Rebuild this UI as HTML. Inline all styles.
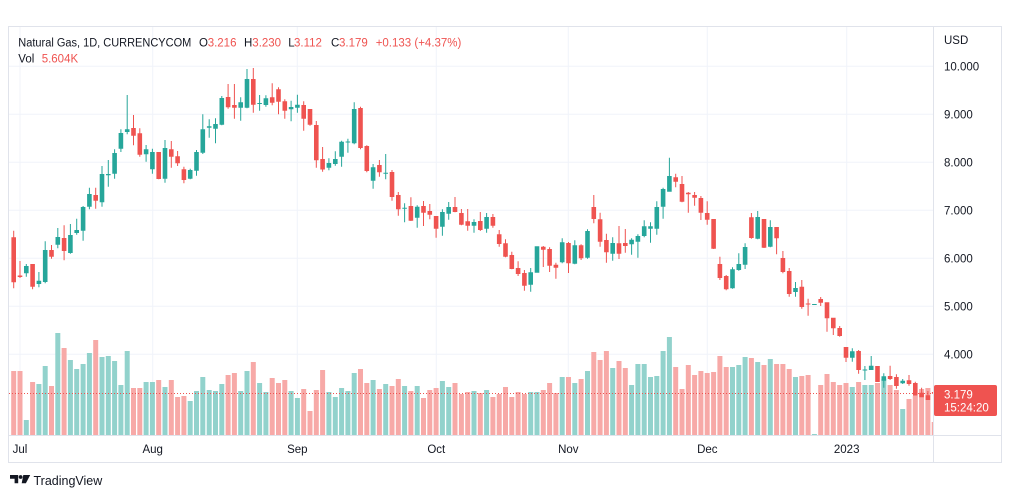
<!DOCTYPE html>
<html><head><meta charset="utf-8"><style>
html,body{margin:0;padding:0;background:#fff;width:1012px;height:498px;overflow:hidden}
svg{display:block}
text{font-family:"Liberation Sans",sans-serif}
.a{fill:#ef5350}.b{fill:#26a69a}.c{fill:#f7a9a7}.d{fill:#92d2cc}
</style></head><body>
<svg width="1012" height="498" viewBox="0 0 1012 498" xmlns="http://www.w3.org/2000/svg">
<defs><clipPath id="pc"><rect x="9" y="27" width="924.5" height="408"/></clipPath></defs>
<rect x="0" y="0" width="1012" height="498" fill="#fff"/>
<!-- grid -->
<g stroke="#f0f3fa" stroke-width="1">
<path d="M9 66.3H933M9 114.3H933M9 162.3H933M9 210.3H933M9 258.3H933M9 306.3H933M9 354.3H933"/>
<path d="M20 27V435M152.7 27V435M297.3 27V435M436.3 27V435M568.3 27V435M707.3 27V435M846.7 27V435"/>
</g>
<g clip-path="url(#pc)">
<g transform="translate(13.7)"><path class="c" d="M-2.5 371h5V435h-5z"/><path class="a" d="M-.5 230.7h1V288.3h-1zM-2.3 237.3h4.6V282.3h-4.6z"/></g>
<g transform="translate(20)"><path class="c" d="M-2.5 371h5V435h-5z"/><path class="a" d="M-.5 261h1V278h-1zM-2.3 275.5h4.6V277h-4.6z"/></g>
<g transform="translate(26.3)"><path class="d" d="M-2.5 420h5V435h-5z"/><path class="b" d="M-.5 264h1V276.7h-1zM-2.3 266h4.6V273.3h-4.6z"/></g>
<g transform="translate(32.6)"><path class="c" d="M-2.5 382h5V435h-5z"/><path class="a" d="M-.5 264h1V289.3h-1zM-2.3 264h4.6V286.7h-4.6z"/></g>
<g transform="translate(38.9)"><path class="d" d="M-2.5 384h5V435h-5z"/><path class="b" d="M-.5 272h1V287.3h-1zM-2.3 280.7h4.6V284h-4.6z"/></g>
<g transform="translate(45.2)"><path class="d" d="M-2.5 366h5V435h-5z"/><path class="b" d="M-.5 241.3h1V283.3h-1zM-2.3 250h4.6V282h-4.6z"/></g>
<g transform="translate(51.5)"><path class="c" d="M-2.5 386h5V435h-5z"/><path class="a" d="M-.5 245h1V258.7h-1zM-2.3 250h4.6V256.7h-4.6z"/></g>
<g transform="translate(57.8)"><path class="d" d="M-2.5 333h5V435h-5z"/><path class="b" d="M-.5 228h1V248.3h-1zM-2.3 237h4.6V244.7h-4.6z"/></g>
<g transform="translate(64.1)"><path class="c" d="M-2.5 348h5V435h-5z"/><path class="a" d="M-.5 225.3h1V260.3h-1zM-2.3 238h4.6V251h-4.6z"/></g>
<g transform="translate(70.4)"><path class="d" d="M-2.5 360h5V435h-5z"/><path class="b" d="M-.5 224h1V253.7h-1zM-2.3 235h4.6V253h-4.6z"/></g>
<g transform="translate(76.7)"><path class="d" d="M-2.5 369h5V435h-5z"/><path class="b" d="M-.5 218.7h1V234.7h-1zM-2.3 230h4.6V233h-4.6z"/></g>
<g transform="translate(83.1)"><path class="d" d="M-2.5 364h5V435h-5z"/><path class="b" d="M-.5 206h1V240.7h-1zM-2.3 207h4.6V230.7h-4.6z"/></g>
<g transform="translate(89.4)"><path class="d" d="M-2.5 353h5V435h-5z"/><path class="b" d="M-.5 187.7h1V209.3h-1zM-2.3 194h4.6V206.7h-4.6z"/></g>
<g transform="translate(95.7)"><path class="c" d="M-2.5 340h5V435h-5z"/><path class="a" d="M-.5 187.7h1V208.7h-1zM-2.3 195h4.6V200.7h-4.6z"/></g>
<g transform="translate(102)"><path class="d" d="M-2.5 357h5V435h-5z"/><path class="b" d="M-.5 166h1V206.7h-1zM-2.3 174h4.6V202.3h-4.6z"/></g>
<g transform="translate(108.3)"><path class="d" d="M-2.5 356h5V435h-5z"/><path class="b" d="M-.5 160h1V186.7h-1zM-2.3 174h4.6V175.3h-4.6z"/></g>
<g transform="translate(114.6)"><path class="d" d="M-2.5 361h5V435h-5z"/><path class="b" d="M-.5 149.3h1V178.7h-1zM-2.3 153h4.6V173.7h-4.6z"/></g>
<g transform="translate(120.9)"><path class="d" d="M-2.5 385h5V435h-5z"/><path class="b" d="M-.5 129.3h1V152h-1zM-2.3 133h4.6V148.7h-4.6z"/></g>
<g transform="translate(127.2)"><path class="d" d="M-2.5 351h5V435h-5z"/><path class="b" d="M-.5 95h1V134.3h-1zM-2.3 129.3h4.6V132h-4.6z"/></g>
<g transform="translate(133.5)"><path class="c" d="M-2.5 388h5V435h-5z"/><path class="a" d="M-.5 115h1V145.3h-1zM-2.3 128h4.6V135.7h-4.6z"/></g>
<g transform="translate(139.8)"><path class="c" d="M-2.5 388h5V435h-5z"/><path class="a" d="M-.5 128.3h1V156.7h-1zM-2.3 133.3h4.6V154.7h-4.6z"/></g>
<g transform="translate(146.1)"><path class="d" d="M-2.5 382h5V435h-5z"/><path class="b" d="M-.5 145h1V161.7h-1zM-2.3 149.3h4.6V154.3h-4.6z"/></g>
<g transform="translate(152.4)"><path class="d" d="M-2.5 382h5V435h-5z"/><path class="b" d="M-.5 148.7h1V173.7h-1zM-2.3 152h4.6V169.3h-4.6z"/></g>
<g transform="translate(158.7)"><path class="c" d="M-2.5 380h5V435h-5z"/><path class="a" d="M-.5 152h1V179.3h-1zM-2.3 152h4.6V179h-4.6z"/></g>
<g transform="translate(165)"><path class="d" d="M-2.5 387h5V435h-5z"/><path class="b" d="M-.5 140h1V182.7h-1zM-2.3 148h4.6V178.7h-4.6z"/></g>
<g transform="translate(171.3)"><path class="c" d="M-2.5 380h5V435h-5z"/><path class="a" d="M-.5 141h1V167.7h-1zM-2.3 149.3h4.6V156.7h-4.6z"/></g>
<g transform="translate(177.6)"><path class="c" d="M-2.5 397h5V435h-5z"/><path class="a" d="M-.5 151h1V166h-1zM-2.3 156.3h4.6V163.3h-4.6z"/></g>
<g transform="translate(183.9)"><path class="c" d="M-2.5 396h5V435h-5z"/><path class="a" d="M-.5 166.7h1V183.3h-1zM-2.3 169.3h4.6V180h-4.6z"/></g>
<g transform="translate(190.2)"><path class="d" d="M-2.5 401h5V435h-5z"/><path class="b" d="M-.5 168.7h1V179.3h-1zM-2.3 170h4.6V178.7h-4.6z"/></g>
<g transform="translate(196.5)"><path class="d" d="M-2.5 391h5V435h-5z"/><path class="b" d="M-.5 150h1V175.7h-1zM-2.3 152h4.6V170.7h-4.6z"/></g>
<g transform="translate(202.8)"><path class="d" d="M-2.5 377h5V435h-5z"/><path class="b" d="M-.5 114.3h1V154h-1zM-2.3 129.3h4.6V152.7h-4.6z"/></g>
<g transform="translate(209.2)"><path class="d" d="M-2.5 390h5V435h-5z"/><path class="b" d="M-.5 119.3h1V137.7h-1zM-2.3 126.3h4.6V127.7h-4.6z"/></g>
<g transform="translate(215.5)"><path class="d" d="M-2.5 391h5V435h-5z"/><path class="b" d="M-.5 118.3h1V143.3h-1zM-2.3 124h4.6V128.7h-4.6z"/></g>
<g transform="translate(221.8)"><path class="d" d="M-2.5 384h5V435h-5z"/><path class="b" d="M-.5 96h1V125.3h-1zM-2.3 98h4.6V124.7h-4.6z"/></g>
<g transform="translate(228.1)"><path class="c" d="M-2.5 375h5V435h-5z"/><path class="a" d="M-.5 84h1V108.7h-1zM-2.3 97h4.6V107.3h-4.6z"/></g>
<g transform="translate(234.4)"><path class="c" d="M-2.5 373h5V435h-5z"/><path class="a" d="M-.5 84h1V118.7h-1zM-2.3 105h4.6V107.7h-4.6z"/></g>
<g transform="translate(240.7)"><path class="d" d="M-2.5 391h5V435h-5z"/><path class="b" d="M-.5 97.3h1V120.7h-1zM-2.3 102.3h4.6V107.7h-4.6z"/></g>
<g transform="translate(247)"><path class="d" d="M-2.5 371h5V435h-5z"/><path class="b" d="M-.5 69h1V108.3h-1zM-2.3 79h4.6V107.7h-4.6z"/></g>
<g transform="translate(253.3)"><path class="c" d="M-2.5 362h5V435h-5z"/><path class="a" d="M-.5 68h1V112.7h-1zM-2.3 79h4.6V104.7h-4.6z"/></g>
<g transform="translate(259.6)"><path class="d" d="M-2.5 383h5V435h-5z"/><path class="b" d="M-.5 95h1V110.7h-1zM-2.3 103h4.6V104h-4.6z"/></g>
<g transform="translate(265.9)"><path class="d" d="M-2.5 392h5V435h-5z"/><path class="b" d="M-.5 95.3h1V106.7h-1zM-2.3 98.3h4.6V105h-4.6z"/></g>
<g transform="translate(272.2)"><path class="c" d="M-2.5 378h5V435h-5z"/><path class="a" d="M-.5 83.3h1V105.3h-1zM-2.3 97.3h4.6V102.7h-4.6z"/></g>
<g transform="translate(278.5)"><path class="c" d="M-2.5 383h5V435h-5z"/><path class="a" d="M-.5 87.3h1V114.3h-1zM-2.3 89.3h4.6V101.7h-4.6z"/></g>
<g transform="translate(284.8)"><path class="c" d="M-2.5 380h5V435h-5z"/><path class="a" d="M-.5 99.3h1V118.7h-1zM-2.3 101.3h4.6V110.7h-4.6z"/></g>
<g transform="translate(291.1)"><path class="d" d="M-2.5 391h5V435h-5z"/><path class="b" d="M-.5 100.7h1V121.3h-1zM-2.3 107h4.6V109.3h-4.6z"/></g>
<g transform="translate(297.4)"><path class="d" d="M-2.5 398h5V435h-5z"/><path class="b" d="M-.5 94.7h1V112.7h-1zM-2.3 104.7h4.6V107.7h-4.6z"/></g>
<g transform="translate(303.7)"><path class="c" d="M-2.5 389h5V435h-5z"/><path class="a" d="M-.5 101.3h1V130.7h-1zM-2.3 105h4.6V118.7h-4.6z"/></g>
<g transform="translate(310)"><path class="c" d="M-2.5 411h5V435h-5z"/><path class="a" d="M-.5 109h1V125.7h-1zM-2.3 109h4.6V124.7h-4.6z"/></g>
<g transform="translate(316.3)"><path class="c" d="M-2.5 390h5V435h-5z"/><path class="a" d="M-.5 121h1V167.7h-1zM-2.3 125h4.6V160.3h-4.6z"/></g>
<g transform="translate(322.6)"><path class="c" d="M-2.5 370h5V435h-5z"/><path class="a" d="M-.5 147h1V171.7h-1zM-2.3 159h4.6V169.5h-4.6z"/></g>
<g transform="translate(328.9)"><path class="d" d="M-2.5 392h5V435h-5z"/><path class="b" d="M-.5 158.3h1V170.3h-1zM-2.3 163h4.6V167.7h-4.6z"/></g>
<g transform="translate(335.3)"><path class="d" d="M-2.5 397h5V435h-5z"/><path class="b" d="M-.5 151.3h1V165.7h-1zM-2.3 159h4.6V164h-4.6z"/></g>
<g transform="translate(341.6)"><path class="d" d="M-2.5 388h5V435h-5z"/><path class="b" d="M-.5 140.7h1V166.7h-1zM-2.3 141.7h4.6V156.7h-4.6z"/></g>
<g transform="translate(347.9)"><path class="d" d="M-2.5 391h5V435h-5z"/><path class="b" d="M-.5 138.7h1V152.7h-1zM-2.3 141.5h4.6V142.5h-4.6z"/></g>
<g transform="translate(354.2)"><path class="d" d="M-2.5 373h5V435h-5z"/><path class="b" d="M-.5 102.3h1V144.3h-1zM-2.3 109h4.6V143.3h-4.6z"/></g>
<g transform="translate(360.5)"><path class="c" d="M-2.5 369h5V435h-5z"/><path class="a" d="M-.5 106.7h1V149.3h-1zM-2.3 108h4.6V148h-4.6z"/></g>
<g transform="translate(366.8)"><path class="c" d="M-2.5 383h5V435h-5z"/><path class="a" d="M-.5 145.3h1V172.3h-1zM-2.3 146h4.6V171h-4.6z"/></g>
<g transform="translate(373.1)"><path class="d" d="M-2.5 380h5V435h-5z"/><path class="b" d="M-.5 164h1V188.7h-1zM-2.3 167.3h4.6V180.7h-4.6z"/></g>
<g transform="translate(379.4)"><path class="c" d="M-2.5 389h5V435h-5z"/><path class="a" d="M-.5 160h1V176.7h-1zM-2.3 165h4.6V172.3h-4.6z"/></g>
<g transform="translate(385.7)"><path class="d" d="M-2.5 384h5V435h-5z"/><path class="b" d="M-.5 154h1V179.3h-1zM-2.3 172.7h4.6V173.7h-4.6z"/></g>
<g transform="translate(392)"><path class="c" d="M-2.5 386h5V435h-5z"/><path class="a" d="M-.5 170h1V200.7h-1zM-2.3 172h4.6V197h-4.6z"/></g>
<g transform="translate(398.3)"><path class="c" d="M-2.5 379h5V435h-5z"/><path class="a" d="M-.5 192h1V215.7h-1zM-2.3 195h4.6V209.3h-4.6z"/></g>
<g transform="translate(404.6)"><path class="d" d="M-2.5 386h5V435h-5z"/><path class="b" d="M-.5 203.3h1V222.3h-1zM-2.3 207.7h4.6V208.7h-4.6z"/></g>
<g transform="translate(410.9)"><path class="c" d="M-2.5 391h5V435h-5z"/><path class="a" d="M-.5 197.3h1V221h-1zM-2.3 206h4.6V220.7h-4.6z"/></g>
<g transform="translate(417.2)"><path class="d" d="M-2.5 386h5V435h-5z"/><path class="b" d="M-.5 205.3h1V227.7h-1zM-2.3 206.7h4.6V217.7h-4.6z"/></g>
<g transform="translate(423.5)"><path class="c" d="M-2.5 398h5V435h-5z"/><path class="a" d="M-.5 201h1V226h-1zM-2.3 206h4.6V212.7h-4.6z"/></g>
<g transform="translate(429.8)"><path class="c" d="M-2.5 390h5V435h-5z"/><path class="a" d="M-.5 204h1V219.3h-1zM-2.3 211h4.6V214.7h-4.6z"/></g>
<g transform="translate(436.1)"><path class="c" d="M-2.5 388h5V435h-5z"/><path class="a" d="M-.5 216h1V237.7h-1zM-2.3 216h4.6V228.7h-4.6z"/></g>
<g transform="translate(442.4)"><path class="d" d="M-2.5 381h5V435h-5z"/><path class="b" d="M-.5 209.3h1V235.7h-1zM-2.3 212h4.6V226.7h-4.6z"/></g>
<g transform="translate(448.7)"><path class="d" d="M-2.5 387h5V435h-5z"/><path class="b" d="M-.5 202h1V219.7h-1zM-2.3 207h4.6V213.7h-4.6z"/></g>
<g transform="translate(455)"><path class="c" d="M-2.5 383h5V435h-5z"/><path class="a" d="M-.5 197h1V212.3h-1zM-2.3 207h4.6V212h-4.6z"/></g>
<g transform="translate(461.4)"><path class="c" d="M-2.5 394h5V435h-5z"/><path class="a" d="M-.5 209h1V225.3h-1zM-2.3 213h4.6V224.7h-4.6z"/></g>
<g transform="translate(467.7)"><path class="c" d="M-2.5 392h5V435h-5z"/><path class="a" d="M-.5 209h1V230.7h-1zM-2.3 221.3h4.6V225.7h-4.6z"/></g>
<g transform="translate(474)"><path class="d" d="M-2.5 391h5V435h-5z"/><path class="b" d="M-.5 219.3h1V232.7h-1zM-2.3 222h4.6V225.7h-4.6z"/></g>
<g transform="translate(480.3)"><path class="c" d="M-2.5 393h5V435h-5z"/><path class="a" d="M-.5 212h1V231h-1zM-2.3 221h4.6V230h-4.6z"/></g>
<g transform="translate(486.6)"><path class="d" d="M-2.5 390h5V435h-5z"/><path class="b" d="M-.5 213h1V232.7h-1zM-2.3 217h4.6V228.7h-4.6z"/></g>
<g transform="translate(492.9)"><path class="c" d="M-2.5 397h5V435h-5z"/><path class="a" d="M-.5 214h1V227.7h-1zM-2.3 217h4.6V225.7h-4.6z"/></g>
<g transform="translate(499.2)"><path class="c" d="M-2.5 394h5V435h-5z"/><path class="a" d="M-.5 230h1V246.7h-1zM-2.3 234.3h4.6V244h-4.6z"/></g>
<g transform="translate(505.5)"><path class="c" d="M-2.5 387h5V435h-5z"/><path class="a" d="M-.5 239.3h1V257.3h-1zM-2.3 243.3h4.6V256.7h-4.6z"/></g>
<g transform="translate(511.8)"><path class="c" d="M-2.5 397h5V435h-5z"/><path class="a" d="M-.5 251.7h1V269.3h-1zM-2.3 255h4.6V269h-4.6z"/></g>
<g transform="translate(518.1)"><path class="c" d="M-2.5 392h5V435h-5z"/><path class="a" d="M-.5 261.3h1V276h-1zM-2.3 268h4.6V274h-4.6z"/></g>
<g transform="translate(524.4)"><path class="c" d="M-2.5 394h5V435h-5z"/><path class="a" d="M-.5 270h1V290.7h-1zM-2.3 273h4.6V285.7h-4.6z"/></g>
<g transform="translate(530.7)"><path class="d" d="M-2.5 392h5V435h-5z"/><path class="b" d="M-.5 268h1V291.7h-1zM-2.3 272.3h4.6V284.7h-4.6z"/></g>
<g transform="translate(537)"><path class="d" d="M-2.5 392h5V435h-5z"/><path class="b" d="M-.5 246.3h1V272.7h-1zM-2.3 246.3h4.6V272.7h-4.6z"/></g>
<g transform="translate(543.3)"><path class="c" d="M-2.5 390h5V435h-5z"/><path class="a" d="M-.5 246h1V267h-1zM-2.3 246.7h4.6V249.7h-4.6z"/></g>
<g transform="translate(549.6)"><path class="c" d="M-2.5 383h5V435h-5z"/><path class="a" d="M-.5 247.3h1V272h-1zM-2.3 249h4.6V265.7h-4.6z"/></g>
<g transform="translate(555.9)"><path class="c" d="M-2.5 393h5V435h-5z"/><path class="a" d="M-.5 262.7h1V278.7h-1zM-2.3 264.7h4.6V267.7h-4.6z"/></g>
<g transform="translate(562.2)"><path class="d" d="M-2.5 377h5V435h-5z"/><path class="b" d="M-.5 238.3h1V263.3h-1zM-2.3 242.3h4.6V262.3h-4.6z"/></g>
<g transform="translate(568.5)"><path class="c" d="M-2.5 377h5V435h-5z"/><path class="a" d="M-.5 242h1V273h-1zM-2.3 243h4.6V263.3h-4.6z"/></g>
<g transform="translate(574.8)"><path class="d" d="M-2.5 383h5V435h-5z"/><path class="b" d="M-.5 240.3h1V264.3h-1zM-2.3 245.3h4.6V263.7h-4.6z"/></g>
<g transform="translate(581.1)"><path class="c" d="M-2.5 379h5V435h-5z"/><path class="a" d="M-.5 244.3h1V260h-1zM-2.3 245.3h4.6V258.3h-4.6z"/></g>
<g transform="translate(587.5)"><path class="d" d="M-2.5 371h5V435h-5z"/><path class="b" d="M-.5 229.3h1V258.7h-1zM-2.3 231h4.6V257.7h-4.6z"/></g>
<g transform="translate(593.8)"><path class="c" d="M-2.5 352h5V435h-5z"/><path class="a" d="M-.5 195h1V223.3h-1zM-2.3 207h4.6V219h-4.6z"/></g>
<g transform="translate(600.1)"><path class="c" d="M-2.5 360h5V435h-5z"/><path class="a" d="M-.5 212.7h1V246.7h-1zM-2.3 219.3h4.6V241.7h-4.6z"/></g>
<g transform="translate(606.4)"><path class="c" d="M-2.5 351h5V435h-5z"/><path class="a" d="M-.5 233.7h1V262.7h-1zM-2.3 240h4.6V252.3h-4.6z"/></g>
<g transform="translate(612.7)"><path class="d" d="M-2.5 368h5V435h-5z"/><path class="b" d="M-.5 237.3h1V260.7h-1zM-2.3 243h4.6V253.7h-4.6z"/></g>
<g transform="translate(619)"><path class="c" d="M-2.5 361h5V435h-5z"/><path class="a" d="M-.5 226h1V259h-1zM-2.3 243.3h4.6V253.7h-4.6z"/></g>
<g transform="translate(625.3)"><path class="c" d="M-2.5 368h5V435h-5z"/><path class="a" d="M-.5 229h1V252.7h-1zM-2.3 243h4.6V246h-4.6z"/></g>
<g transform="translate(631.6)"><path class="d" d="M-2.5 385h5V435h-5z"/><path class="b" d="M-.5 238.3h1V254.7h-1zM-2.3 239.7h4.6V244.3h-4.6z"/></g>
<g transform="translate(637.9)"><path class="d" d="M-2.5 364h5V435h-5z"/><path class="b" d="M-.5 234.3h1V257.7h-1zM-2.3 236h4.6V241.7h-4.6z"/></g>
<g transform="translate(644.2)"><path class="d" d="M-2.5 364h5V435h-5z"/><path class="b" d="M-.5 220.3h1V237.3h-1zM-2.3 226.3h4.6V236h-4.6z"/></g>
<g transform="translate(650.5)"><path class="d" d="M-2.5 377h5V435h-5z"/><path class="b" d="M-.5 222.3h1V242.7h-1zM-2.3 226.3h4.6V228.7h-4.6z"/></g>
<g transform="translate(656.8)"><path class="d" d="M-2.5 376h5V435h-5z"/><path class="b" d="M-.5 201.3h1V234.7h-1zM-2.3 207h4.6V228.7h-4.6z"/></g>
<g transform="translate(663.1)"><path class="d" d="M-2.5 351h5V435h-5z"/><path class="b" d="M-.5 187.7h1V218.7h-1zM-2.3 189h4.6V206.7h-4.6z"/></g>
<g transform="translate(669.4)"><path class="d" d="M-2.5 337h5V435h-5z"/><path class="b" d="M-.5 157.7h1V191.7h-1zM-2.3 176h4.6V191.7h-4.6z"/></g>
<g transform="translate(675.7)"><path class="c" d="M-2.5 367h5V435h-5z"/><path class="a" d="M-.5 173.7h1V187.3h-1zM-2.3 177.3h4.6V181.7h-4.6z"/></g>
<g transform="translate(682)"><path class="c" d="M-2.5 389h5V435h-5z"/><path class="a" d="M-.5 176h1V202.3h-1zM-2.3 184h4.6V201.7h-4.6z"/></g>
<g transform="translate(688.3)"><path class="c" d="M-2.5 365h5V435h-5z"/><path class="a" d="M-.5 192h1V212.7h-1zM-2.3 192.7h4.6V194.3h-4.6z"/></g>
<g transform="translate(694.6)"><path class="c" d="M-2.5 375h5V435h-5z"/><path class="a" d="M-.5 192h1V205.7h-1zM-2.3 195h4.6V197.7h-4.6z"/></g>
<g transform="translate(700.9)"><path class="c" d="M-2.5 371h5V435h-5z"/><path class="a" d="M-.5 196h1V220h-1zM-2.3 198h4.6V212.7h-4.6z"/></g>
<g transform="translate(707.2)"><path class="c" d="M-2.5 373h5V435h-5z"/><path class="a" d="M-.5 201.3h1V224.7h-1zM-2.3 213h4.6V219.7h-4.6z"/></g>
<g transform="translate(713.6)"><path class="c" d="M-2.5 372h5V435h-5z"/><path class="a" d="M-.5 219h1V249h-1zM-2.3 219h4.6V248.7h-4.6z"/></g>
<g transform="translate(719.9)"><path class="c" d="M-2.5 356h5V435h-5z"/><path class="a" d="M-.5 256.7h1V280h-1zM-2.3 264h4.6V278h-4.6z"/></g>
<g transform="translate(726.2)"><path class="c" d="M-2.5 367h5V435h-5z"/><path class="a" d="M-.5 275h1V290.3h-1zM-2.3 276h4.6V289.3h-4.6z"/></g>
<g transform="translate(732.5)"><path class="d" d="M-2.5 367h5V435h-5z"/><path class="b" d="M-.5 267.3h1V288.7h-1zM-2.3 269.3h4.6V288.3h-4.6z"/></g>
<g transform="translate(738.8)"><path class="d" d="M-2.5 365h5V435h-5z"/><path class="b" d="M-.5 253.3h1V270.7h-1zM-2.3 264h4.6V270h-4.6z"/></g>
<g transform="translate(745.1)"><path class="d" d="M-2.5 357h5V435h-5z"/><path class="b" d="M-.5 243.3h1V269h-1zM-2.3 247h4.6V264.7h-4.6z"/></g>
<g transform="translate(751.4)"><path class="c" d="M-2.5 358h5V435h-5z"/><path class="a" d="M-.5 213h1V238.7h-1zM-2.3 217.3h4.6V238h-4.6z"/></g>
<g transform="translate(757.7)"><path class="d" d="M-2.5 362h5V435h-5z"/><path class="b" d="M-.5 211h1V239.3h-1zM-2.3 217h4.6V238.7h-4.6z"/></g>
<g transform="translate(764)"><path class="c" d="M-2.5 365h5V435h-5z"/><path class="a" d="M-.5 219h1V248h-1zM-2.3 219h4.6V247.7h-4.6z"/></g>
<g transform="translate(770.3)"><path class="d" d="M-2.5 359h5V435h-5z"/><path class="b" d="M-.5 220.3h1V247.3h-1zM-2.3 227h4.6V246.7h-4.6z"/></g>
<g transform="translate(776.6)"><path class="c" d="M-2.5 364h5V435h-5z"/><path class="a" d="M-.5 227h1V254.3h-1zM-2.3 227h4.6V238.3h-4.6z"/></g>
<g transform="translate(782.9)"><path class="c" d="M-2.5 364h5V435h-5z"/><path class="a" d="M-.5 251h1V273.3h-1zM-2.3 258h4.6V272h-4.6z"/></g>
<g transform="translate(789.2)"><path class="c" d="M-2.5 369h5V435h-5z"/><path class="a" d="M-.5 268h1V296.7h-1zM-2.3 271h4.6V294h-4.6z"/></g>
<g transform="translate(795.5)"><path class="d" d="M-2.5 377h5V435h-5z"/><path class="b" d="M-.5 282h1V296.7h-1zM-2.3 288h4.6V292h-4.6z"/></g>
<g transform="translate(801.8)"><path class="c" d="M-2.5 376h5V435h-5z"/><path class="a" d="M-.5 280h1V308.7h-1zM-2.3 286.7h4.6V307h-4.6z"/></g>
<g transform="translate(808.1)"><path class="c" d="M-2.5 375h5V435h-5z"/><path class="a" d="M-.5 298.7h1V315.7h-1zM-2.3 303.5h4.6V304.5h-4.6z"/></g>
<g transform="translate(814.4)"><path class="d" d="M-2.5 434h5V435h-5z"/><path class="b" d="M-2.3 304h4.6V305h-4.6z"/></g>
<g transform="translate(820.7)"><path class="c" d="M-2.5 385h5V435h-5z"/><path class="a" d="M-.5 297h1V306h-1zM-2.3 299h4.6V302.7h-4.6z"/></g>
<g transform="translate(827)"><path class="c" d="M-2.5 374h5V435h-5z"/><path class="a" d="M-.5 302.3h1V331.7h-1zM-2.3 302.3h4.6V318.3h-4.6z"/></g>
<g transform="translate(833.3)"><path class="c" d="M-2.5 382h5V435h-5z"/><path class="a" d="M-.5 317.7h1V335h-1zM-2.3 317.7h4.6V328.3h-4.6z"/></g>
<g transform="translate(839.7)"><path class="c" d="M-2.5 385h5V435h-5z"/><path class="a" d="M-.5 326h1V336.7h-1zM-2.3 328h4.6V336h-4.6z"/></g>
<g transform="translate(846)"><path class="c" d="M-2.5 383h5V435h-5z"/><path class="a" d="M-.5 347h1V362h-1zM-2.3 347h4.6V357.7h-4.6z"/></g>
<g transform="translate(852.3)"><path class="d" d="M-2.5 387h5V435h-5z"/><path class="b" d="M-.5 348.3h1V361.7h-1zM-2.3 351.3h4.6V357.7h-4.6z"/></g>
<g transform="translate(858.6)"><path class="c" d="M-2.5 382h5V435h-5z"/><path class="a" d="M-.5 350h1V373.7h-1zM-2.3 351h4.6V370h-4.6z"/></g>
<g transform="translate(864.9)"><path class="d" d="M-2.5 385h5V435h-5z"/><path class="b" d="M-.5 366h1V380h-1zM-2.3 369.5h4.6V370.5h-4.6z"/></g>
<g transform="translate(871.2)"><path class="d" d="M-2.5 385h5V435h-5z"/><path class="b" d="M-.5 356h1V370h-1zM-2.3 365.7h4.6V370h-4.6z"/></g>
<g transform="translate(877.5)"><path class="c" d="M-2.5 383h5V435h-5z"/><path class="a" d="M-.5 366h1V382h-1zM-2.3 366h4.6V382h-4.6z"/></g>
<g transform="translate(883.8)"><path class="d" d="M-2.5 379h5V435h-5z"/><path class="b" d="M-.5 373.3h1V387.7h-1zM-2.3 376.3h4.6V380.7h-4.6z"/></g>
<g transform="translate(890.1)"><path class="c" d="M-2.5 385h5V435h-5z"/><path class="a" d="M-.5 365.7h1V380h-1zM-2.3 376h4.6V379h-4.6z"/></g>
<g transform="translate(896.4)"><path class="c" d="M-2.5 390h5V435h-5z"/><path class="a" d="M-.5 374.3h1V388.7h-1zM-2.3 377h4.6V386h-4.6z"/></g>
<g transform="translate(902.7)"><path class="d" d="M-2.5 409h5V435h-5z"/><path class="b" d="M-.5 379h1V384h-1zM-2.3 380.7h4.6V383.3h-4.6z"/></g>
<g transform="translate(909)"><path class="c" d="M-2.5 399h5V435h-5z"/><path class="a" d="M-.5 375h1V385.7h-1zM-2.3 380.3h4.6V384h-4.6z"/></g>
<g transform="translate(915.3)"><path class="c" d="M-2.5 396h5V435h-5z"/><path class="a" d="M-.5 381.7h1V395.7h-1zM-2.3 383h4.6V395.7h-4.6z"/></g>
<g transform="translate(921.6)"><path class="c" d="M-2.5 389h5V435h-5z"/><path class="a" d="M-.5 387.7h1V397.3h-1zM-2.3 392.7h4.6V397.3h-4.6z"/></g>
<g transform="translate(927.9)"><path class="c" d="M-2.5 388h5V435h-5z"/><path class="a" d="M-.5 391h1V400h-1zM-2.3 395.3h4.6V400h-4.6z"/></g>
<g transform="translate(934.2)"><path class="c" d="M-2.5 422h5V435h-5z"/><path class="a" d="M-.5 391.4h1V397h-1zM-2.3 392h4.6V393.7h-4.6z"/></g>
<path d="M9 393.5H933" stroke="#ef5350" stroke-width="1" stroke-dasharray="1 2"/>
</g>
<!-- frame and axes -->
<g fill="none" stroke="#e0e3eb" stroke-width="1">
<rect x="8.5" y="26.5" width="993" height="436"/>
<path d="M933.5 26.5V462.5M8.5 435.5H1001.5"/>
</g>
<!-- header -->
<g font-size="11.5" fill="#131722">
<text x="18.3" y="46.6" textLength="173" lengthAdjust="spacingAndGlyphs">Natural Gas, 1D, CURRENCYCOM</text>
<text x="199" y="46.6">O</text><text x="207.7" y="46.6" fill="#ef5350">3.216</text>
<text x="244" y="46.6">H</text><text x="252.3" y="46.6" fill="#ef5350">3.230</text>
<text x="288.3" y="46.6">L</text><text x="294" y="46.6" fill="#ef5350">3.112</text>
<text x="331" y="46.6">C</text><text x="339" y="46.6" fill="#ef5350">3.179</text>
<text x="375.7" y="46.6" fill="#ef5350">+0.133 (+4.37%)</text>
<text x="18.3" y="62.6">Vol</text><text x="41.7" y="62.6" fill="#ef5350">5.604K</text>
</g>
<!-- right axis -->
<g font-size="11.5" fill="#131722">
<text x="944" y="44">USD</text>
<text x="944" y="70.5">10.000</text>
<text x="944" y="118.5">9.000</text>
<text x="944" y="166.5">8.000</text>
<text x="944" y="214.5">7.000</text>
<text x="944" y="262.5">6.000</text>
<text x="944" y="310.5">5.000</text>
<text x="944" y="358.5">4.000</text>
</g>
<rect x="934" y="385" width="63" height="31" rx="2" fill="#ef5350"/>
<g font-size="11.5" fill="#ffffff">
<text x="944" y="398.3">3.179</text>
<text x="944" y="411.7">15:24:20</text>
</g>
<!-- time axis -->
<g font-size="11.5" fill="#131722" text-anchor="middle">
<text x="20" y="453">Jul</text>
<text x="152.7" y="453">Aug</text>
<text x="297.3" y="453">Sep</text>
<text x="436.3" y="453">Oct</text>
<text x="568.3" y="453">Nov</text>
<text x="707.3" y="453">Dec</text>
<text x="846.7" y="453">2023</text>
</g>
<!-- logo -->
<g fill="#131722">
<path d="M10 475h8.2v8.3h-3.6v-4.6H10z"/>
<circle cx="20.6" cy="477" r="1.9"/>
<path d="M23.3 475h6.9l-4.3 8.3h-4.2z"/>
</g>
<text x="33.5" y="485" font-size="12.5" fill="#131722">TradingView</text>
</svg>
</body></html>
